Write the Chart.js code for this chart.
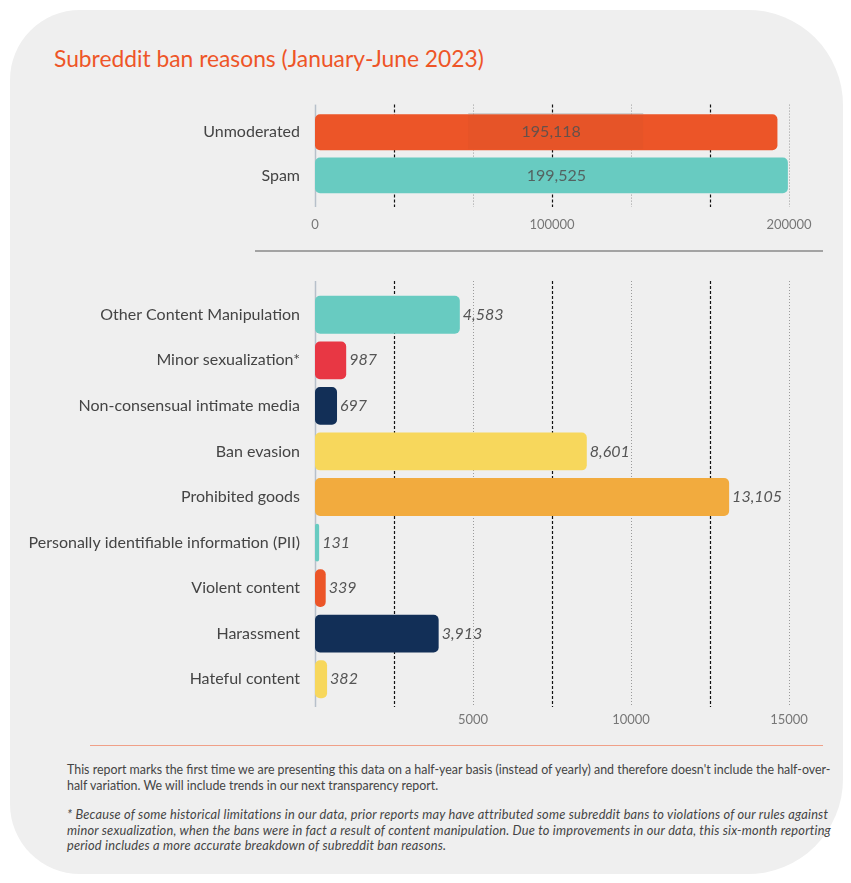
<!DOCTYPE html>
<html>
<head>
<meta charset="utf-8">
<script src="https://cdn.jsdelivr.net/npm/chart.js@4.4.0/dist/chart.umd.min.js"></script>
<style>
    body { margin: 0; width: 851px; height: 883px; background: #fff; position: relative; overflow: hidden; font-family: Lato, sans-serif; }
    #card { position: absolute; left: 10px; top: 10px; width: 833px; height: 864px; background: #efefef; border-radius: 70px 95px 95px 70px; }
    #title { position: absolute; left: 54px; top: 44px; font-size: 22.8px; color: #ee5527; white-space: nowrap; }
    .wrap { position: absolute; left: 0; width: 851px; }
    #topWrap { top: 86px; height: 151px; }
    #bottomWrap { top: 261px; height: 481px; }
    #sep1 { position: absolute; left: 255px; top: 250px; width: 568px; height: 2px; background: #a3a3a3; }
    #sep2 { position: absolute; left: 90px; top: 745px; width: 733px; height: 1px; background: #f0a088; }
    #notes { position: absolute; left: 67px; top: 762px; font-size: 12.4px; line-height: 15.5px; color: #444; white-space: nowrap; }
    #notes p { margin: 0 0 14px 0; }
    #notes i { font-style: italic; font-size: 12.8px; letter-spacing: 0.2px; }
</style>
</head>
<body>
<div id="card"></div>
<div id="title">Subreddit ban reasons (January-June 2023)</div>
<div class="wrap" id="topWrap"><canvas id="topChart"></canvas></div>
<div id="sep1"></div>
<div class="wrap" id="bottomWrap"><canvas id="bottomChart"></canvas></div>
<div id="sep2"></div>
<div id="notes">
    <p>This report marks the first time we are presenting this data on a half-year basis (instead of yearly) and therefore doesn't include the half-over-<br>half variation. We will include trends in our next transparency report.</p>
    <p><i>* Because of some historical limitations in our data, prior reports may have attributed some subreddit bans to violations of our rules against<br>minor sexualization, when the bans were in fact a result of content manipulation. Due to improvements in our data, this six-month reporting<br>period includes a more accurate breakdown of subreddit ban reasons.</i></p>
</div>

<script>
    // data
    var topLabels = ['Unmoderated', 'Spam'];
    var topValues = [195118, 199525];
    var topColors = ['#ec5528', '#68cbc1'];

    var reasonLabels = ['Other Content Manipulation', 'Minor sexualization*', 'Non-consensual intimate media',
        'Ban evasion', 'Prohibited goods', 'Personally identifiable information (PII)', 'Violent content',
        'Harassment', 'Hateful content'];
    var reasonValues = [4583, 987, 697, 8601, 13105, 131, 339, 3913, 382];
    var reasonColors = ['#68cbc1', '#e83744', '#122f57', '#f7d75c', '#f2ab3e', '#68cbc1', '#ec5528', '#122f57', '#f7d75c'];

    var topTickLabels = [0, 100000, 200000];
    var bottomTickLabels = [5000, 10000, 15000];

    // custom grid: solid axis, then alternating black dashed / grey dotted
    var dashGrid = {
        id: 'dashGrid',
        beforeDatasetsDraw: function (chart, args, opts) {
            var ctx = chart.ctx;
            var x = chart.scales.x;
            var area = chart.chartArea;
            ctx.save();
            x.ticks.forEach(function (t, i) {
                var px = Math.round(x.getPixelForValue(t.value)) + 0.5;
                ctx.beginPath();
                if (i === 0) {
                    ctx.strokeStyle = '#b7c0ca';
                    ctx.lineWidth = 1.5;
                    ctx.setLineDash([]);
                } else if (i % 2 === 1) {
                    ctx.strokeStyle = '#111';
                    ctx.lineWidth = 1.2;
                    ctx.setLineDash([3, 2]);
                } else {
                    ctx.strokeStyle = '#9a9a9a';
                    ctx.lineWidth = 1;
                    ctx.setLineDash([1, 2]);
                }
                ctx.moveTo(px, area.top - opts.up);
                ctx.lineTo(px, area.bottom + opts.down);
                ctx.stroke();
            });
            ctx.restore();
        }
    };

    // value labels
    var valueLabels = {
        id: 'valueLabels',
        afterDatasetsDraw: function (chart, args, opts) {
            var ctx = chart.ctx;
            var meta = chart.getDatasetMeta(0);
            var data = chart.data.datasets[0].data;
            ctx.save();
            ctx.textBaseline = 'middle';
            meta.data.forEach(function (bar, i) {
                var text = data[i].toLocaleString('en-US');
                if (opts.inside) {
                    var cx = (bar.x + bar.base) / 2;
                    if (i === 0) {
                        // faint label box seen on the first bar
                        ctx.fillStyle = 'rgba(150, 70, 40, 0.07)';
                        ctx.fillRect(cx - 78, bar.y - 18, 175, 35);
                        ctx.fillStyle = 'rgba(160, 160, 160, 0.5)';
                        ctx.fillRect(cx - 78, bar.y - 19, 175, 1);
                    }
                    ctx.font = '16px Lato';
                    ctx.fillStyle = 'rgba(80, 80, 80, 0.85)';
                    ctx.textAlign = 'center';
                    ctx.fillText(text, cx + 5, bar.y);
                } else {
                    ctx.font = 'italic 16px Lato';
                    ctx.fillStyle = '#555';
                    ctx.textAlign = 'left';
                    ctx.fillText(text, bar.x + 3, bar.y);
                }
            });
            ctx.restore();
        }
    };

    function makeChart(id, labels, values, colors, xMax, step, tickLabels, padTop, padX, axisH, grid, inside) {
        return new Chart(document.getElementById(id).getContext('2d'), {
            type: 'bar',
            data: {
                labels: labels,
                datasets: [{
                    data: values,
                    backgroundColor: colors,
                    borderRadius: 5,
                    borderSkipped: false,
                    barPercentage: 0.83,
                    categoryPercentage: 1
                }]
            },
            options: {
                indexAxis: 'y',
                responsive: true,
                maintainAspectRatio: false,
                animation: false,
                layout: { padding: { top: padTop, left: 0, right: 62, bottom: 0 } },
                plugins: {
                    legend: { display: false },
                    tooltip: { enabled: false },
                    dashGrid: grid,
                    valueLabels: { inside: inside }
                },
                scales: {
                    x: {
                        min: 0,
                        max: xMax,
                        grid: { display: false, drawTicks: false },
                        border: { display: false },
                        afterFit: function (scale) { scale.height = axisH; },
                        afterBuildTicks: function (scale) {
                            var ticks = [];
                            for (var v = 0; v <= xMax + 1; v += step) ticks.push({ value: v });
                            scale.ticks = ticks;
                        },
                        ticks: {
                            padding: padX,
                            color: '#777',
                            font: { family: 'Lato', size: 13 },
                            maxRotation: 0,
                            autoSkip: false,
                            callback: function (value) {
                                for (var k = 0; k < tickLabels.length; k++) {
                                    if (Math.abs(tickLabels[k] - value) < 1) return String(tickLabels[k]);
                                }
                                return '';
                            }
                        }
                    },
                    y: {
                        grid: { display: false, drawTicks: false },
                        border: { display: false },
                        afterFit: function (scale) { scale.width = 315; },
                        ticks: {
                            padding: 15,
                            color: '#444',
                            font: { family: 'Lato', size: 16 }
                        }
                    }
                }
            },
            plugins: [dashGrid, valueLabels]
        });
    }

    makeChart('topChart', topLabels, topValues, topColors, 200000, 200000 / 6, topTickLabels, 20, 20, 40, { up: 6, down: 10 }, true);
    makeChart('bottomChart', reasonLabels, reasonValues, reasonColors, 15000, 2500, bottomTickLabels, 31, 10, 40, { up: 11, down: 5 }, false);
</script>
</body>
</html>
